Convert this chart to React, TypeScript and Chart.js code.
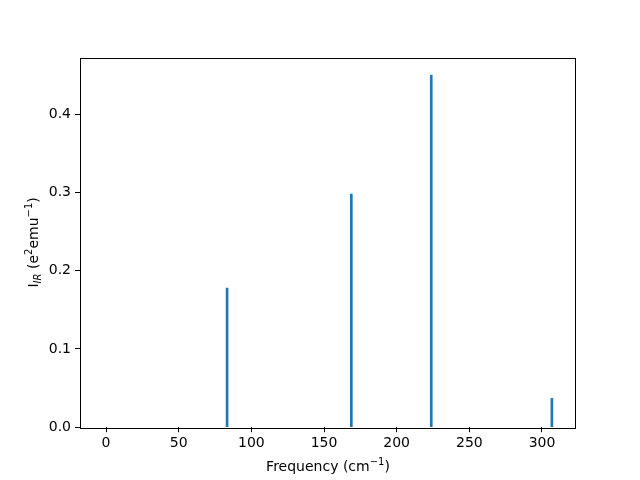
import React, { useEffect, useRef } from "react";
import { Chart, registerables } from "chart.js";

Chart.register(...registerables);

// Data
const frequencies = [83.3, 168.8, 223.8, 306.8];
const intensities = [0.178, 0.298, 0.45, 0.037];
const xTickValues = [0, 50, 100, 150, 200, 250, 300];
const yTickValues = [0.0, 0.1, 0.2, 0.3, 0.4];
const xRange = [-17.9, 323.4];
const yRange = [0, 0.4725];

const FONT = "'DejaVu Sans', sans-serif";

type Piece = { t: string; mode?: "sup" | "sub"; italic?: boolean };

function drawRich(ctx: CanvasRenderingContext2D, pieces: Piece[], base: number, small: number) {
  const fontFor = (p: Piece) =>
    `${p.italic ? "italic " : ""}${p.mode ? small : base}px ${FONT}`;
  let total = 0;
  const widths = pieces.map((p) => {
    ctx.font = fontFor(p);
    const w = ctx.measureText(p.t).width;
    total += w;
    return w;
  });
  let x = -total / 2;
  pieces.forEach((p, i) => {
    ctx.font = fontFor(p);
    let dy = 0;
    if (p.mode === "sup") dy = -base * 0.42;
    if (p.mode === "sub") dy = base * 0.22;
    ctx.fillText(p.t, x, dy);
    x += widths[i];
  });
}

const framePlugin = {
  id: "frameAndTitles",
  afterDraw(chart: any) {
    const { ctx, chartArea } = chart;
    ctx.save();
    ctx.strokeStyle = "#000";
    ctx.lineWidth = 1;
    ctx.strokeRect(
      Math.round(chartArea.left) + 0.5,
      Math.round(chartArea.top) + 0.5,
      Math.round(chartArea.right - chartArea.left) - 1,
      Math.round(chartArea.bottom - chartArea.top)
    );
    ctx.fillStyle = "#000";
    ctx.textBaseline = "alphabetic";
    ctx.textAlign = "left";
    // x title
    ctx.save();
    ctx.translate((chartArea.left + chartArea.right) / 2, 471);
    drawRich(
      ctx,
      [{ t: "Frequency (cm" }, { t: "\u22121", mode: "sup" }, { t: ")" }],
      14,
      10
    );
    ctx.restore();
    // y title
    ctx.save();
    ctx.translate(37.5, (chartArea.top + chartArea.bottom) / 2);
    ctx.rotate(-Math.PI / 2);
    drawRich(
      ctx,
      [
        { t: "I" },
        { t: "IR", mode: "sub", italic: true },
        { t: " (e" },
        { t: "2", mode: "sup" },
        { t: "emu" },
        { t: "\u22121", mode: "sup" },
        { t: ")" },
      ],
      14,
      10
    );
    ctx.restore();
    ctx.restore();
  },
};

export default function App() {
  const ref = useRef<HTMLCanvasElement | null>(null);

  useEffect(() => {
    if (!ref.current) return;
    const chart = new Chart(ref.current, {
      type: "bar",
      data: {
        datasets: [
          {
            data: frequencies.map((f, i) => ({ x: f, y: intensities[i] })),
            backgroundColor: "#1f77b4",
            borderWidth: 0,
            barThickness: 2,
          },
        ],
      },
      options: {
        responsive: false,
        animation: false,
        devicePixelRatio: 1,
        layout: { padding: { left: 0, top: 57.6, right: 64, bottom: 0 } },
        plugins: {
          legend: { display: false },
          tooltip: { enabled: false },
        },
        scales: {
          x: {
            type: "linear",
            min: xRange[0],
            max: xRange[1],
            offset: false,
            afterFit: (s: any) => {
              s.height = 480 - 427.2;
            },
            afterBuildTicks: (s: any) => {
              s.ticks = xTickValues.map((v) => ({ value: v }));
            },
            ticks: {
              font: { family: FONT, size: 14 },
              color: "#000",
              padding: 3,
              maxRotation: 0,
              autoSkip: false,
              callback: (v: any) => String(v),
            },
            grid: {
              display: true,
              drawOnChartArea: false,
              drawTicks: true,
              tickLength: 5,
              offset: false,
              color: "#000",
            },
            border: { display: false },
            title: { display: false },
          },
          y: {
            type: "linear",
            min: yRange[0],
            max: yRange[1],
            afterFit: (s: any) => {
              s.width = 80;
            },
            afterBuildTicks: (s: any) => {
              s.ticks = yTickValues.map((v) => ({ value: v }));
            },
            ticks: {
              font: { family: FONT, size: 14 },
              color: "#000",
              padding: 4,
              autoSkip: false,
              callback: (v: any) => Number(v).toFixed(1),
            },
            grid: {
              display: true,
              drawOnChartArea: false,
              drawTicks: true,
              tickLength: 5,
              color: "#000",
            },
            border: { display: false },
            title: { display: false },
          },
        },
      },
      plugins: [framePlugin],
    });
    return () => chart.destroy();
  }, []);

  return (
    <div style={{ position: "absolute", left: 0, top: 0, width: 640, height: 480, background: "#fff" }}>
      <canvas ref={ref} width={640} height={480} style={{ width: 640, height: 480 }} />
    </div>
  );
}
